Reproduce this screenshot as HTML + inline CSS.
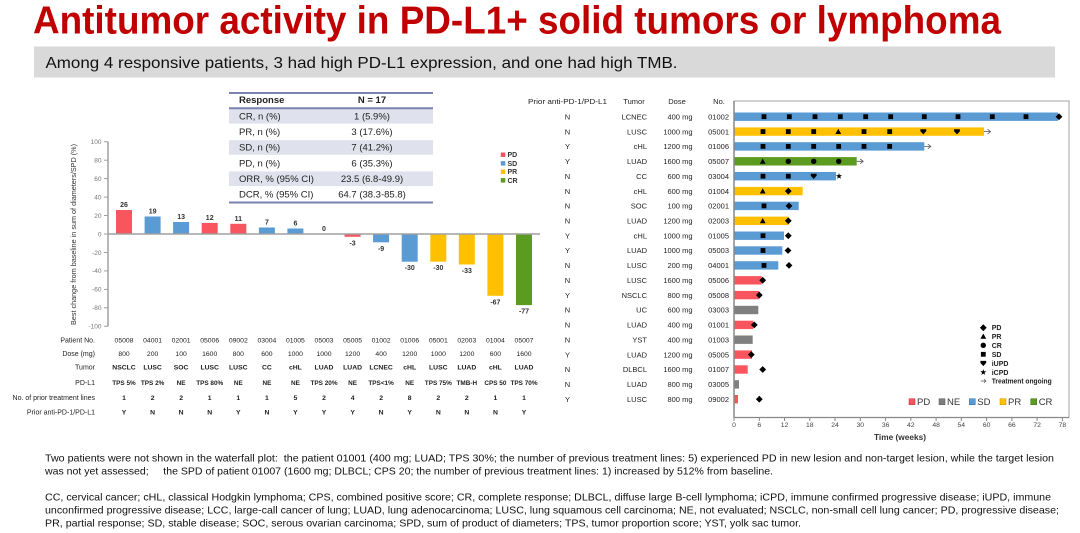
<!DOCTYPE html>
<html><head><meta charset="utf-8"><style>
html,body{margin:0;padding:0;background:#fff;}
svg{display:block;}
text{font-family:"Liberation Sans",Arial,sans-serif;}
</style></head><body>
<svg width="1080" height="533" viewBox="0 0 1080 533" xmlns="http://www.w3.org/2000/svg">
<defs>
<rect id="sq" x="-2.4" y="-2.4" width="4.8" height="4.8" fill="#000"/>
<path id="dm" d="M0,-3.4 L3.4,0 L0,3.4 L-3.4,0Z" fill="#000"/>
<path id="tr" d="M0,-2.8 L2.9,2.4 L-2.9,2.4Z" fill="#000"/>
<circle id="ci" r="2.7" fill="#000"/>
<path id="iu" d="M-2.9,-2.4 H2.9 V-0.4 L0,2.8 L-2.9,-0.4Z" fill="#000"/>
<path id="st" d="M0,-3.2 L0.76,-1.05 L3.04,-0.99 L1.24,0.4 L1.88,2.59 L0,1.3 L-1.88,2.59 L-1.24,0.4 L-3.04,-0.99 L-0.76,-1.05Z" fill="#000"/>
</defs>
<rect width="1080" height="533" fill="#fff"/>

<!-- Title -->
<text x="33" y="33.5" font-size="39" font-weight="bold" fill="#c00000" textLength="968" lengthAdjust="spacingAndGlyphs">Antitumor activity in PD-L1+ solid tumors or lymphoma</text>
<rect x="34" y="46.5" width="1021" height="31" fill="#d9d9d9"/>
<text x="45.5" y="68" font-size="16" fill="#111" textLength="632" lengthAdjust="spacingAndGlyphs">Among 4 responsive patients, 3 had high PD-L1 expression, and one had high TMB.</text>

<!-- Response table -->
<rect x="229" y="109" width="204" height="14.6" fill="#dfe1ec"/>
<rect x="229" y="140.2" width="204" height="14.6" fill="#dfe1ec"/>
<rect x="229" y="171.4" width="204" height="14.6" fill="#dfe1ec"/>
<line x1="229" y1="93" x2="433" y2="93" stroke="#7a83b3" stroke-width="2"/>
<line x1="229" y1="108.3" x2="433" y2="108.3" stroke="#7a83b3" stroke-width="2"/>
<line x1="229" y1="202.5" x2="433" y2="202.5" stroke="#7a83b3" stroke-width="2"/>
<g font-size="9.5" fill="#222">
<text x="239" y="103" font-weight="bold">Response</text>
<text x="372" y="103" font-weight="bold" text-anchor="middle">N = 17</text>
<text x="239" y="119.5">CR, n (%)</text><text x="372" y="119.5" text-anchor="middle">1 (5.9%)</text>
<text x="239" y="135.1">PR, n (%)</text><text x="372" y="135.1" text-anchor="middle">3 (17.6%)</text>
<text x="239" y="150.7">SD, n (%)</text><text x="372" y="150.7" text-anchor="middle">7 (41.2%)</text>
<text x="239" y="166.3">PD, n (%)</text><text x="372" y="166.3" text-anchor="middle">6 (35.3%)</text>
<text x="239" y="181.9">ORR, % (95% CI)</text><text x="372" y="181.9" text-anchor="middle">23.5 (6.8-49.9)</text>
<text x="239" y="197.5">DCR, % (95% CI)</text><text x="372" y="197.5" text-anchor="middle">64.7 (38.3-85.8)</text>
</g>

<!-- Waterfall -->
<text transform="translate(76,234.5) rotate(-90)" text-anchor="middle" font-size="7" fill="#333" textLength="181" lengthAdjust="spacingAndGlyphs">Best change from baseline in sum of diameters/SPD (%)</text>
<g stroke="#a0a0a0" stroke-width="1">
<line x1="104" y1="141.7" x2="108" y2="141.7"/><line x1="104" y1="160.2" x2="108" y2="160.2"/>
<line x1="104" y1="178.6" x2="108" y2="178.6"/><line x1="104" y1="197.1" x2="108" y2="197.1"/>
<line x1="104" y1="215.5" x2="108" y2="215.5"/><line x1="104" y1="234" x2="108" y2="234"/>
<line x1="104" y1="252.5" x2="108" y2="252.5"/><line x1="104" y1="270.9" x2="108" y2="270.9"/>
<line x1="104" y1="289.4" x2="108" y2="289.4"/><line x1="104" y1="307.8" x2="108" y2="307.8"/>
<line x1="104" y1="326.3" x2="108" y2="326.3"/>
</g>
<g font-size="6.5" fill="#777" text-anchor="end">
<text x="101.5" y="144">100</text><text x="101.5" y="162.5">80</text><text x="101.5" y="180.9">60</text>
<text x="101.5" y="199.4">40</text><text x="101.5" y="217.8">20</text><text x="101.5" y="236.3">0</text>
<text x="101.5" y="254.8">-20</text><text x="101.5" y="273.2">-40</text><text x="101.5" y="291.7">-60</text>
<text x="101.5" y="310.1">-80</text><text x="101.5" y="328.6">-100</text>
</g>
<g>
<rect x="116" y="210" width="16" height="24" fill="#f8555e"/>
<rect x="144.6" y="216.5" width="16" height="17.5" fill="#5a9bd4"/>
<rect x="173.1" y="222" width="16" height="12" fill="#5a9bd4"/>
<rect x="201.7" y="222.9" width="16" height="11.1" fill="#f8555e"/>
<rect x="230.3" y="223.8" width="16" height="10.2" fill="#f8555e"/>
<rect x="258.9" y="227.5" width="16" height="6.5" fill="#5a9bd4"/>
<rect x="287.4" y="228.5" width="16" height="5.5" fill="#5a9bd4"/>
<rect x="344.6" y="234" width="16" height="2.8" fill="#f8555e"/>
<rect x="373.1" y="234" width="16" height="8.3" fill="#5a9bd4"/>
<rect x="401.7" y="234" width="16" height="27.7" fill="#5a9bd4"/>
<rect x="430.3" y="234" width="16" height="27.7" fill="#ffc000"/>
<rect x="458.8" y="234" width="16" height="30.5" fill="#ffc000"/>
<rect x="487.4" y="234" width="16" height="61.8" fill="#ffc000"/>
<rect x="516" y="234" width="16" height="71.1" fill="#5b9b1f"/>
</g>
<line x1="108" y1="141.7" x2="108" y2="326.3" stroke="#a0a0a0" stroke-width="1.5"/>
<line x1="108" y1="234" x2="540" y2="234" stroke="#a0a0a0" stroke-width="1.5"/>
<g font-size="7" font-weight="bold" fill="#333" text-anchor="middle">
<text x="124" y="207">26</text><text x="152.6" y="213.5">19</text><text x="181.1" y="219">13</text>
<text x="209.7" y="219.9">12</text><text x="238.3" y="220.8">11</text><text x="266.9" y="224.5">7</text>
<text x="295.4" y="225.5">6</text><text x="324" y="231">0</text>
<text x="352.6" y="245.3">-3</text><text x="381.1" y="250.8">-9</text><text x="409.7" y="270.2">-30</text>
<text x="438.3" y="270.2">-30</text><text x="466.8" y="273">-33</text><text x="495.4" y="304.3">-67</text>
<text x="524" y="313.6">-77</text>
</g>
<!-- waterfall legend -->
<rect x="500.8" y="152.5" width="4.5" height="4.5" fill="#f8555e"/>
<rect x="500.8" y="161.1" width="4.5" height="4.5" fill="#5a9bd4"/>
<rect x="500.8" y="169.5" width="4.5" height="4.5" fill="#ffc000"/>
<rect x="500.8" y="178.1" width="4.5" height="4.5" fill="#5b9b1f"/>
<g font-size="7" font-weight="bold" fill="#333">
<text x="507.5" y="157.2">PD</text><text x="507.5" y="165.8">SD</text>
<text x="507.5" y="174.2">PR</text><text x="507.5" y="182.8">CR</text>
</g>

<!-- waterfall table -->
<g font-size="7" fill="#222" text-anchor="end">
<text x="95" y="342.5">Patient No.</text>
<text x="95" y="355.8">Dose (mg)</text>
<text x="95" y="369.5">Tumor</text>
<text x="95" y="385.2">PD-L1</text>
<text x="95" y="400.2">No. of prior treatment lines</text>
<text x="95" y="414.5">Prior anti-PD-1/PD-L1</text>
</g>
<g font-size="6.8" fill="#222" text-anchor="middle">
<text y="342.5"><tspan x="124">05008</tspan><tspan x="152.6">04001</tspan><tspan x="181.1">02001</tspan><tspan x="209.7">05006</tspan><tspan x="238.3">09002</tspan><tspan x="266.9">03004</tspan><tspan x="295.4">01005</tspan><tspan x="324">05003</tspan><tspan x="352.6">05005</tspan><tspan x="381.1">01002</tspan><tspan x="409.7">01006</tspan><tspan x="438.3">05001</tspan><tspan x="466.8">02003</tspan><tspan x="495.4">01004</tspan><tspan x="524">05007</tspan></text>
<text y="355.8"><tspan x="124">800</tspan><tspan x="152.6">200</tspan><tspan x="181.1">100</tspan><tspan x="209.7">1600</tspan><tspan x="238.3">800</tspan><tspan x="266.9">600</tspan><tspan x="295.4">1000</tspan><tspan x="324">1000</tspan><tspan x="352.6">1200</tspan><tspan x="381.1">400</tspan><tspan x="409.7">1200</tspan><tspan x="438.3">1000</tspan><tspan x="466.8">1200</tspan><tspan x="495.4">600</tspan><tspan x="524">1600</tspan></text>
<text y="369.5" font-weight="bold"><tspan x="124">NSCLC</tspan><tspan x="152.6">LUSC</tspan><tspan x="181.1">SOC</tspan><tspan x="209.7">LUSC</tspan><tspan x="238.3">LUSC</tspan><tspan x="266.9">CC</tspan><tspan x="295.4">cHL</tspan><tspan x="324">LUAD</tspan><tspan x="352.6">LUAD</tspan><tspan x="381.1">LCNEC</tspan><tspan x="409.7">cHL</tspan><tspan x="438.3">LUSC</tspan><tspan x="466.8">LUAD</tspan><tspan x="495.4">cHL</tspan><tspan x="524">LUAD</tspan></text>
<text y="385.2" font-weight="bold" font-size="6.4"><tspan x="124">TPS 5%</tspan><tspan x="152.6">TPS 2%</tspan><tspan x="181.1">NE</tspan><tspan x="209.7">TPS 80%</tspan><tspan x="238.3">NE</tspan><tspan x="266.9">NE</tspan><tspan x="295.4">NE</tspan><tspan x="324">TPS 20%</tspan><tspan x="352.6">NE</tspan><tspan x="381.1">TPS&lt;1%</tspan><tspan x="409.7">NE</tspan><tspan x="438.3">TPS 75%</tspan><tspan x="466.8">TMB-H</tspan><tspan x="495.4">CPS 50</tspan><tspan x="524">TPS 70%</tspan></text>
<text y="400.2" font-weight="bold"><tspan x="124">1</tspan><tspan x="152.6">2</tspan><tspan x="181.1">2</tspan><tspan x="209.7">1</tspan><tspan x="238.3">1</tspan><tspan x="266.9">1</tspan><tspan x="295.4">5</tspan><tspan x="324">2</tspan><tspan x="352.6">4</tspan><tspan x="381.1">2</tspan><tspan x="409.7">8</tspan><tspan x="438.3">2</tspan><tspan x="466.8">2</tspan><tspan x="495.4">1</tspan><tspan x="524">1</tspan></text>
<text y="414.5" font-weight="bold"><tspan x="124">Y</tspan><tspan x="152.6">N</tspan><tspan x="181.1">N</tspan><tspan x="209.7">N</tspan><tspan x="238.3">Y</tspan><tspan x="266.9">N</tspan><tspan x="295.4">Y</tspan><tspan x="324">Y</tspan><tspan x="352.6">Y</tspan><tspan x="381.1">N</tspan><tspan x="409.7">Y</tspan><tspan x="438.3">N</tspan><tspan x="466.8">N</tspan><tspan x="495.4">N</tspan><tspan x="524">Y</tspan></text>
</g>

<!-- Swimmer left columns -->
<g font-size="7.5" fill="#222">
<text x="567.5" y="104" text-anchor="middle" textLength="79" lengthAdjust="spacingAndGlyphs">Prior anti-PD-1/PD-L1</text>
<text x="634" y="104" text-anchor="middle">Tumor</text>
<text x="677" y="104" text-anchor="middle">Dose</text>
<text x="719" y="104" text-anchor="middle">No.</text>
</g>
<g font-size="7.5" fill="#222" text-anchor="middle">
<text x="567.5" y="119.4">N</text><text x="567.5" y="134.3">N</text><text x="567.5" y="149.1">Y</text><text x="567.5" y="164">Y</text><text x="567.5" y="178.9">N</text><text x="567.5" y="193.8">N</text><text x="567.5" y="208.6">N</text><text x="567.5" y="223.5">N</text><text x="567.5" y="238.4">Y</text><text x="567.5" y="253.2">Y</text><text x="567.5" y="268.1">N</text><text x="567.5" y="283">N</text><text x="567.5" y="297.8">Y</text><text x="567.5" y="312.7">N</text><text x="567.5" y="327.6">N</text><text x="567.5" y="342.4">N</text><text x="567.5" y="357.3">Y</text><text x="567.5" y="372.2">N</text><text x="567.5" y="387.1">N</text><text x="567.5" y="401.9">Y</text>
</g>
<g font-size="7.5" fill="#222" text-anchor="end">
<text x="647" y="119.4">LCNEC</text><text x="647" y="134.3">LUSC</text><text x="647" y="149.1">cHL</text><text x="647" y="164">LUAD</text><text x="647" y="178.9">CC</text><text x="647" y="193.8">cHL</text><text x="647" y="208.6">SOC</text><text x="647" y="223.5">LUAD</text><text x="647" y="238.4">cHL</text><text x="647" y="253.2">LUAD</text><text x="647" y="268.1">LUSC</text><text x="647" y="283">LUSC</text><text x="647" y="297.8">NSCLC</text><text x="647" y="312.7">UC</text><text x="647" y="327.6">LUAD</text><text x="647" y="342.4">YST</text><text x="647" y="357.3">LUAD</text><text x="647" y="372.2">DLBCL</text><text x="647" y="387.1">LUAD</text><text x="647" y="401.9">LUSC</text>
<text x="692.5" y="119.4">400 mg</text><text x="692.5" y="134.3">1000 mg</text><text x="692.5" y="149.1">1200 mg</text><text x="692.5" y="164">1600 mg</text><text x="692.5" y="178.9">600 mg</text><text x="692.5" y="193.8">600 mg</text><text x="692.5" y="208.6">100 mg</text><text x="692.5" y="223.5">1200 mg</text><text x="692.5" y="238.4">1000 mg</text><text x="692.5" y="253.2">1000 mg</text><text x="692.5" y="268.1">200 mg</text><text x="692.5" y="283">1600 mg</text><text x="692.5" y="297.8">800 mg</text><text x="692.5" y="312.7">600 mg</text><text x="692.5" y="327.6">400 mg</text><text x="692.5" y="342.4">400 mg</text><text x="692.5" y="357.3">1200 mg</text><text x="692.5" y="372.2">1600 mg</text><text x="692.5" y="387.1">800 mg</text><text x="692.5" y="401.9">800 mg</text>
<text x="729" y="119.4">01002</text><text x="729" y="134.3">05001</text><text x="729" y="149.1">01006</text><text x="729" y="164">05007</text><text x="729" y="178.9">03004</text><text x="729" y="193.8">01004</text><text x="729" y="208.6">02001</text><text x="729" y="223.5">02003</text><text x="729" y="238.4">01005</text><text x="729" y="253.2">05003</text><text x="729" y="268.1">04001</text><text x="729" y="283">05006</text><text x="729" y="297.8">05008</text><text x="729" y="312.7">03003</text><text x="729" y="327.6">01001</text><text x="729" y="342.4">01003</text><text x="729" y="357.3">05005</text><text x="729" y="372.2">01007</text><text x="729" y="387.1">03005</text><text x="729" y="401.9">09002</text>
</g>

<!-- Swimmer plot frame -->
<rect x="734" y="101" width="335" height="316.5" fill="none" stroke="#a6a6a6" stroke-width="1"/>
<g>
<rect x="734" y="112.5" width="324" height="8.4" fill="#5a9bd4"/>
<rect x="734" y="127.4" width="250" height="8.4" fill="#ffc000"/>
<rect x="734" y="142.2" width="190.3" height="8.4" fill="#5a9bd4"/>
<rect x="734" y="157.1" width="122.7" height="8.4" fill="#5b9b1f"/>
<rect x="734" y="172" width="102" height="8.4" fill="#5a9bd4"/>
<rect x="734" y="186.9" width="68.7" height="8.4" fill="#ffc000"/>
<rect x="734" y="201.7" width="64.7" height="8.4" fill="#5a9bd4"/>
<rect x="734" y="216.6" width="54.7" height="8.4" fill="#ffc000"/>
<rect x="734" y="231.5" width="50" height="8.4" fill="#5a9bd4"/>
<rect x="734" y="246.3" width="48.3" height="8.4" fill="#5a9bd4"/>
<rect x="734" y="261.2" width="44.3" height="8.4" fill="#5a9bd4"/>
<rect x="734" y="276.1" width="27.7" height="8.4" fill="#f8555e"/>
<rect x="734" y="290.9" width="25.3" height="8.4" fill="#f8555e"/>
<rect x="734" y="305.8" width="24.3" height="8.4" fill="#7f7f7f"/>
<rect x="734" y="320.7" width="19.3" height="8.4" fill="#f8555e"/>
<rect x="734" y="335.5" width="18.7" height="8.4" fill="#7f7f7f"/>
<rect x="734" y="350.4" width="18" height="8.4" fill="#f8555e"/>
<rect x="734" y="365.3" width="13.7" height="8.4" fill="#f8555e"/>
<rect x="734" y="380.2" width="5" height="8.4" fill="#7f7f7f"/>
<rect x="734" y="395" width="4" height="8.4" fill="#f8555e"/>
</g>
<line x1="734" y1="101" x2="734" y2="417.5" stroke="#888" stroke-width="1.5"/>
<line x1="734" y1="417.5" x2="1069" y2="417.5" stroke="#888" stroke-width="1.2"/>
<g>
<use href="#sq" x="764" y="116.7"/><use href="#sq" x="789.3" y="116.7"/><use href="#sq" x="815" y="116.7"/><use href="#sq" x="840.3" y="116.7"/><use href="#sq" x="865.7" y="116.7"/><use href="#sq" x="890.7" y="116.7"/><use href="#sq" x="924.3" y="116.7"/><use href="#sq" x="958" y="116.7"/><use href="#sq" x="992.3" y="116.7"/><use href="#sq" x="1026" y="116.7"/><use href="#dm" x="1059" y="116.7"/>

<use href="#sq" x="763" y="131.6"/><use href="#sq" x="788.3" y="131.6"/><use href="#sq" x="813.7" y="131.6"/><use href="#tr" x="838.3" y="131.6"/><use href="#sq" x="864" y="131.6"/><use href="#sq" x="889.7" y="131.6"/><use href="#iu" x="923.3" y="131.6"/><use href="#iu" x="957" y="131.6"/>

<use href="#sq" x="763" y="146.4"/><use href="#sq" x="788.3" y="146.4"/><use href="#sq" x="813.7" y="146.4"/><use href="#sq" x="838.7" y="146.4"/><use href="#sq" x="864" y="146.4"/><use href="#sq" x="889.7" y="146.4"/>

<use href="#tr" x="762.7" y="161.3"/><use href="#ci" x="788.3" y="161.3"/><use href="#ci" x="813.7" y="161.3"/><use href="#ci" x="838.7" y="161.3"/>

<use href="#sq" x="763" y="176.2"/><use href="#sq" x="788.3" y="176.2"/><use href="#iu" x="813.7" y="176.2"/><use href="#st" x="839" y="176.2"/>

<use href="#tr" x="762.7" y="191.1"/><use href="#dm" x="788.3" y="191.1"/>
<use href="#sq" x="764" y="205.9"/><use href="#dm" x="789" y="205.9"/>
<use href="#tr" x="762.7" y="220.8"/><use href="#dm" x="788.3" y="220.8"/>
<use href="#sq" x="763" y="235.7"/><use href="#dm" x="788.3" y="235.7"/>
<use href="#sq" x="763" y="250.5"/><use href="#dm" x="788" y="250.5"/>
<use href="#sq" x="764" y="265.4"/><use href="#dm" x="789" y="265.4"/>
<use href="#dm" x="762.7" y="280.3"/>
<use href="#dm" x="759.3" y="295.1"/>
<use href="#dm" x="754.3" y="324.9"/>
<use href="#dm" x="751.3" y="354.6"/>
<use href="#dm" x="762.7" y="369.5"/>
<use href="#dm" x="759.3" y="399.2"/>
</g>
<g stroke="#555" stroke-width="0.8" fill="none">
<path d="M984,131.6 H990.5 M987.5,129.2 L990.5,131.6 L987.5,134"/>
<path d="M924.3,146.4 H930.8 M927.8,144 L930.8,146.4 L927.8,148.8"/>
<path d="M856.7,161.3 H863.2 M860.2,158.9 L863.2,161.3 L860.2,163.7"/>
</g>
<g stroke="#888" stroke-width="1">
<line x1="734" y1="417.5" x2="734" y2="421"/><line x1="759.3" y1="417.5" x2="759.3" y2="421"/><line x1="784.5" y1="417.5" x2="784.5" y2="421"/><line x1="809.8" y1="417.5" x2="809.8" y2="421"/><line x1="835" y1="417.5" x2="835" y2="421"/><line x1="860.3" y1="417.5" x2="860.3" y2="421"/><line x1="885.6" y1="417.5" x2="885.6" y2="421"/><line x1="910.8" y1="417.5" x2="910.8" y2="421"/><line x1="936.1" y1="417.5" x2="936.1" y2="421"/><line x1="961.3" y1="417.5" x2="961.3" y2="421"/><line x1="986.6" y1="417.5" x2="986.6" y2="421"/><line x1="1011.9" y1="417.5" x2="1011.9" y2="421"/><line x1="1037.1" y1="417.5" x2="1037.1" y2="421"/><line x1="1062.4" y1="417.5" x2="1062.4" y2="421"/>
</g>
<g font-size="6.8" fill="#444" text-anchor="middle">
<text x="734" y="427">0</text><text x="759.3" y="427">6</text><text x="784.5" y="427">12</text><text x="809.8" y="427">18</text><text x="835" y="427">24</text><text x="860.3" y="427">30</text><text x="885.6" y="427">36</text><text x="910.8" y="427">42</text><text x="936.1" y="427">48</text><text x="961.3" y="427">54</text><text x="986.6" y="427">60</text><text x="1011.9" y="427">66</text><text x="1037.1" y="427">72</text><text x="1062.4" y="427">78</text>
</g>
<text x="900" y="440" font-size="8.3" font-weight="bold" fill="#333" text-anchor="middle">Time (weeks)</text>

<use href="#dm" x="983.3" y="327.7"/>
<use href="#tr" x="983.3" y="336.3"/>
<use href="#ci" x="983.3" y="345.3"/>
<use href="#sq" x="983.3" y="354.3"/>
<use href="#iu" x="983.3" y="363.3"/>
<use href="#st" x="983.3" y="372.3"/>
<path d="M980.8,381 H986 M984,379.3 L986,381 L984,382.7" stroke="#555" stroke-width="0.7" fill="none"/>
<g font-size="7" font-weight="bold" fill="#222">
<text x="991.7" y="330.2">PD</text><text x="991.7" y="338.8">PR</text><text x="991.7" y="347.8">CR</text>
<text x="991.7" y="356.8">SD</text><text x="991.7" y="365.8">iUPD</text><text x="991.7" y="374.8">iCPD</text>
<text x="991.7" y="383.5" textLength="60" lengthAdjust="spacingAndGlyphs">Treatment ongoing</text>
</g>
<rect x="909" y="398.7" width="6" height="6" fill="#f8555e" stroke="#c0303a" stroke-width="0.5"/>
<rect x="939" y="398.7" width="6" height="6" fill="#7f7f7f" stroke="#555" stroke-width="0.5"/>
<rect x="969.3" y="398.7" width="6" height="6" fill="#5a9bd4" stroke="#2f6ea8" stroke-width="0.5"/>
<rect x="1000" y="398.7" width="6" height="6" fill="#ffc000" stroke="#c08f00" stroke-width="0.5"/>
<rect x="1030.7" y="398.7" width="6" height="6" fill="#5b9b1f" stroke="#3c6c12" stroke-width="0.5"/>
<g font-size="9.5" fill="#333">
<text x="917" y="405">PD</text><text x="947" y="405">NE</text><text x="977.3" y="405">SD</text><text x="1008" y="405">PR</text><text x="1038.7" y="405">CR</text>
</g>

<!-- footnotes -->
<g font-size="10.5" fill="#111">
<text x="45" y="461.4" textLength="1009" lengthAdjust="spacingAndGlyphs">Two patients were not shown in the waterfall plot:&#160; the patient 01001 (400 mg; LUAD; TPS 30%; the number of previous treatment lines: 5) experienced PD in new lesion and non-target lesion, while the target lesion</text>
<text x="45" y="474.7" textLength="728" lengthAdjust="spacingAndGlyphs">was not yet assessed;&#160;&#160;&#160;&#160; the SPD of patient 01007 (1600 mg; DLBCL; CPS 20; the number of previous treatment lines: 1) increased by 512% from baseline.</text>
<text x="45" y="500.4" textLength="1006" lengthAdjust="spacingAndGlyphs">CC, cervical cancer; cHL, classical Hodgkin lymphoma; CPS, combined positive score; CR, complete response; DLBCL, diffuse large B-cell lymphoma; iCPD, immune confirmed progressive disease; iUPD, immune</text>
<text x="45" y="513.5" textLength="1014" lengthAdjust="spacingAndGlyphs">unconfirmed progressive disease; LCC, large-call cancer of lung; LUAD, lung adenocarcinoma; LUSC, lung squamous cell carcinoma; NE, not evaluated; NSCLC, non-small cell lung cancer; PD, progressive disease;</text>
<text x="45" y="526.7" textLength="756" lengthAdjust="spacingAndGlyphs">PR, partial response; SD, stable disease; SOC, serous ovarian carcinoma; SPD, sum of product of diameters; TPS, tumor proportion score; YST, yolk sac tumor.</text>
</g>
</svg>
</body></html>
